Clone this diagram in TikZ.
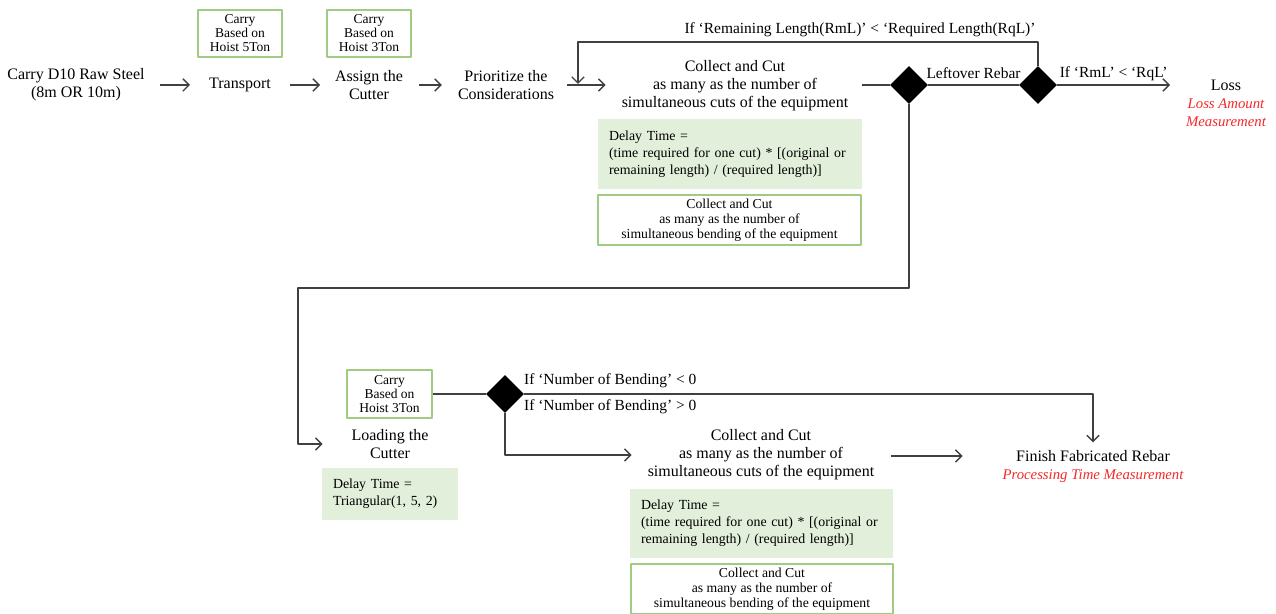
\documentclass[tikz,border=0pt]{standalone}
\usepackage{fontspec}
\setmainfont{Liberation Serif}
\usetikzlibrary{shapes.geometric,arrows.meta}
\definecolor{delayfill}{RGB}{226,239,218}
\definecolor{boxgreen}{RGB}{160,204,130}
\definecolor{measred}{RGB}{245,40,40}
\begin{document}
\begin{tikzpicture}[x=0.02cm, y=-0.02cm, line join=round, >={Straight Barb[length=3.5pt,width=7pt]},
		flow/.style={black!75, line width=0.8pt},
		step text/.style={align=center, font=\fontsize{9.1}{10.2}\selectfont},
		hoistbox/.style={draw=boxgreen, line width=1.1pt, align=center, inner sep=1pt,
			minimum width=1.68cm, minimum height=0.94cm, font=\fontsize{7.7}{8}\selectfont},
		bendbox/.style={draw=boxgreen, line width=1.1pt, align=center, inner sep=1pt,
			minimum width=5.26cm, minimum height=1cm, font=\fontsize{7.8}{8.6}\selectfont},
		delaybox/.style={fill=delayfill, align=left, inner xsep=0.22cm, text width=#1,
			font=\fontsize{7.9}{9.6}\selectfont},
		decision/.style={diamond, fill=black, inner sep=0pt, minimum size=0.76cm},
		cond/.style={text=black, font=\fontsize{8.8}{10}\selectfont, inner sep=1pt},
		measure/.style={text=measred, inner ysep=1pt, font=\itshape\fontsize{8.4}{10.2}\selectfont, align=center}]
	\useasboundingbox (0,0) rectangle (1276,614);
	
	% first row
	\node[step text] (raw) at (76,85) {Carry D10 Raw Steel\\(8m OR 10m)};
	\node[step text] (trans) at (240,85) {Transport};
	\node[hoistbox] (hoist5) at (240,33.5) {Carry\\Based on\\Hoist 5Ton};
	\node[step text] (assign) at (369,85) {Assign the\\Cutter};
	\node[hoistbox] (hoist3a) at (369,33.5) {Carry\\Based on\\Hoist 3Ton};
	\node[step text] (prior) at (506,85) {Prioritize the\\Considerations};
	\node[step text] (cut1) at (735,86) {Collect and Cut\\as many as the number of\\simultaneous cuts of the equipment};
	\node[delaybox=4.84cm, minimum height=1.4cm] (delay1) at (730,154) {Delay Time =\\(time required for one cut) * [(original or\\remaining length) / (required length)]};
	\node[bendbox] (bend1) at (729.5,220) {Collect and Cut\\as many as the number of\\simultaneous bending of the equipment};
	\node[decision] (d1) at (909,85) {};
	\node[decision] (d2) at (1038,85) {};
	\node[step text] (loss) at (1226,85) {Loss};
	\node[measure, anchor=north] (lossm) at (loss.south) {Loss Amount\\Measurement};
	\coordinate (lossin) at (1170,85);
	\coordinate (looptop) at (578,42);
	\coordinate (looptip) at (578,84);
	\node[cond] (remlab) at (860,30) {If `Remaining Length(RmL)' < `Required Length(RqL)'};
	
	% second row
	\coordinate (back) at (298,288);
	\node[step text] (loadc) at (390,444) {Loading the\\Cutter};
	\node[hoistbox, minimum width=1.7cm, minimum height=0.96cm] (hoist3b) at (389.5,394) {Carry\\Based on\\Hoist 3Ton};
	\node[delaybox=2.28cm, minimum height=1.04cm] (delay2) at (390,494) {Delay Time =\\Triangular(1, 5, 2)};
	\node[decision] (d3) at (505,394) {};
	\node[cond, anchor=west] (bendlt) at (522,381) {If `Number of Bending' < 0};
	\node[cond, anchor=west] (bendgt) at (522,407) {If `Number of Bending' > 0};
	\node[step text] (cut2) at (761,455) {Collect and Cut\\as many as the number of\\simultaneous cuts of the equipment};
	\node[delaybox=4.82cm, minimum height=1.38cm] (delay3) at (761.5,523.5) {Delay Time =\\(time required for one cut) * [(original or\\remaining length) / (required length)]};
	\node[bendbox, minimum width=5.24cm] (bend2) at (762,589) {Collect and Cut\\as many as the number of\\simultaneous bending of the equipment};
	\node[step text] (finish) at (1093,456) {Finish Fabricated Rebar};
	\node[measure, anchor=north] (finishm) at (finish.south) {Processing Time Measurement};
	
	% connectors
	\draw[flow, ->, shorten <=5pt, shorten >=7.4pt] (raw) -- (trans);
	\draw[flow, ->, shorten <=7.4pt, shorten >=5pt] (trans) -- (assign);
	\draw[flow, ->, shorten <=5.7pt, shorten >=5.7pt] (assign) -- (prior);
	\draw[flow, ->, shorten <=4pt, shorten >=5.7pt] (prior) -- (prior -| cut1.west);
	\draw[flow] (delay1.east |- d1) -- (d1.west);
	\draw[flow] (d1.east) -- node[cond, above=2pt] (leftlab) {Leftover Rebar} (d2.west);
	\draw[flow, ->] (d2.east) -- node[cond, pos=0, anchor=south west, yshift=1pt] (rmllab) {If `RmL' < `RqL'} (lossin);
	\draw[flow, ->] (d2.north) |- (looptop) -- (looptip);
	\draw[flow, ->, shorten >=13pt] (d1.south) |- (back) |- (loadc.west);
	\draw[flow] (hoist3b.east) -- (d3.west);
	\draw[flow, ->, shorten >=1pt] (d3.east) -| (finish.north);
	\draw[flow, ->, shorten >=5.7pt] (d3.south) |- (cut2.west);
	\draw[flow, ->, shorten <=6pt, shorten >=27pt] (cut2.east |- finish) -- (finish.west);
\end{tikzpicture}
\end{document}
